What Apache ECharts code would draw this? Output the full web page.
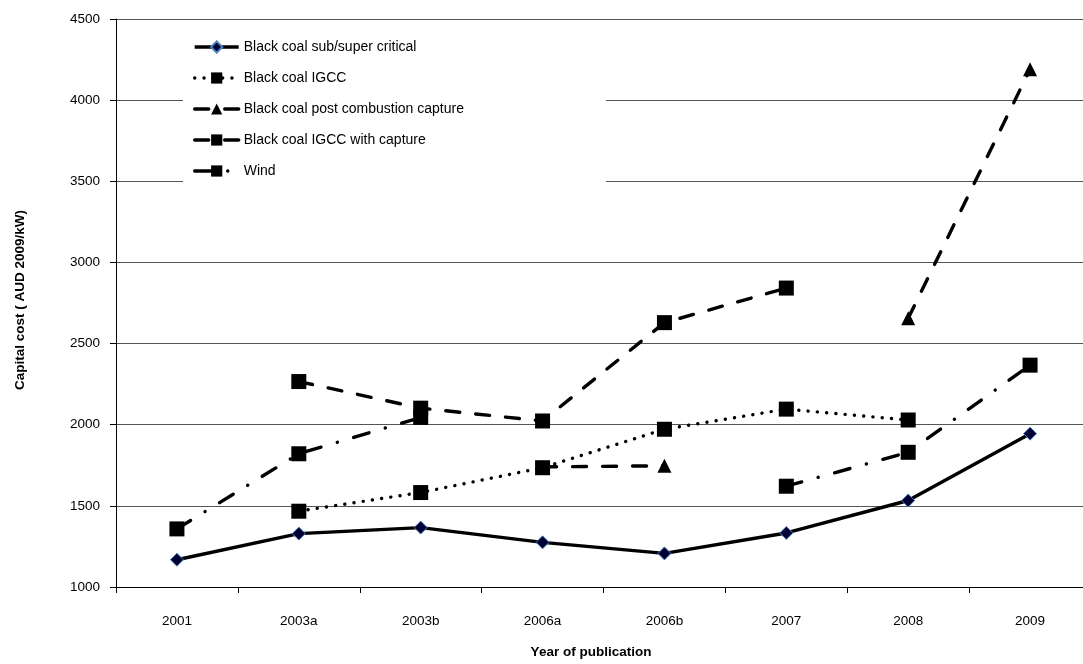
<!DOCTYPE html>
<html>
<head>
<meta charset="utf-8">
<script src="https://cdn.jsdelivr.net/npm/echarts@6/dist/echarts.min.js"></script>
<style>
  html, body { margin: 0; padding: 0; background: #fff; }
  #chart { width: 1083px; height: 664px; }
</style>
</head>
<body>
<div id="chart"></div>
<script>
// Publications (x axis categories)
const years = ['2001', '2003a', '2003b', '2006a', '2006b', '2007', '2008', '2009'];

// Capital cost, AUD 2009/kW (null = no estimate in that publication)
const subSuperCritical = [1168, 1329, 1366, 1275, 1207, 1333, 1533, 1945];
const igcc             = [null, 1467, 1582, 1735, 1972, 2096, 2029, null];
const postCombustion   = [null, null, null, 1740, 1747, null, 2656, 4190];
const igccCapture      = [null, 2266, 2102, 2023, 2629, 2842, null, null];
const wind             = [1358, 1821, 2045, null, null, 1621, 1830, 2367];

// Value axis ticks
const yMin = 1000, yMax = 4500, yStep = 500;

const seriesNames = [
  'Black coal sub/super critical',
  'Black coal IGCC',
  'Black coal post combustion capture',
  'Black coal IGCC with capture',
  'Wind'
];

const FONT = 'Liberation Sans, Arial, sans-serif';
const chart = echarts.init(document.getElementById('chart'), null, { renderer: 'canvas' });

function lineSeries(name, data, symbol, size, itemStyle, lineStyle) {
  return {
    name, type: 'line', data,
    symbol, symbolSize: size,
    showSymbol: true, showAllSymbol: true,
    connectNulls: false,
    itemStyle,
    lineStyle: Object.assign({ color: '#000', width: 3.4 }, lineStyle),
    emphasis: { disabled: true }
  };
}

chart.setOption({
  animation: false,
  backgroundColor: '#fff',
  // the last category runs a little past the right edge of the canvas
  grid: { left: 116, top: 19, bottom: 77, width: 975, outerBoundsMode: 'none' },
  legend: {
    orient: 'vertical',
    left: 183, top: 32,
    padding: [8, 142, 14, 10],
    backgroundColor: '#fff',
    itemWidth: 44, itemHeight: 14, itemGap: 17,
    textStyle: { fontFamily: FONT, fontSize: 14, color: '#000' },
    lineStyle: { width: 3.4 },
    data: seriesNames,
    selectedMode: false,
    z: 10
  },
  xAxis: {
    type: 'category',
    data: years,
    boundaryGap: true,
    axisLine: { lineStyle: { color: '#000', width: 1 } },
    axisTick: { show: true, length: 6, alignWithLabel: false, lineStyle: { color: '#000' } },
    axisLabel: { fontFamily: FONT, fontSize: 13.5, color: '#000', margin: 27 },
    splitLine: { show: false }
  },
  yAxis: {
    type: 'value',
    min: yMin, max: yMax, interval: yStep,
    axisLine: { show: true, lineStyle: { color: '#000', width: 1 } },
    axisTick: { show: true, length: 6, lineStyle: { color: '#000' } },
    axisLabel: { fontFamily: FONT, fontSize: 13.5, color: '#000', margin: 16,
                 formatter: v => String(v) },
    splitLine: { show: true, lineStyle: { color: '#555', width: 1 } }
  },
  graphic: [
    {
      type: 'text', x: 591, y: 652,
      style: { text: 'Year of publication', font: 'bold 13.5px ' + FONT, fill: '#000',
               textAlign: 'center', textVerticalAlign: 'middle' }
    },
    {
      type: 'text', x: 20, y: 300, rotation: Math.PI / 2,
      style: { text: 'Capital cost ( AUD 2009/kW)', font: 'bold 13.5px ' + FONT, fill: '#000',
               textAlign: 'center', textVerticalAlign: 'middle' }
    }
  ],
  series: [
    lineSeries(seriesNames[0], subSuperCritical, 'diamond', 13,
      { color: '#000033', borderColor: '#4a7ebb', borderWidth: 1 },
      { type: 'solid' }),
    lineSeries(seriesNames[1], igcc, 'rect', 15,
      { color: '#000' },
      { type: [0.1, 9.2], cap: 'round', width: 3.4 }),
    lineSeries(seriesNames[2], postCombustion, 'triangle', 14,
      { color: '#000' },
      { type: [14, 16], cap: 'round' }),
    lineSeries(seriesNames[3], igccCapture, 'rect', 15,
      { color: '#000' },
      { type: [14, 16], cap: 'round' }),
    lineSeries(seriesNames[4], wind, 'rect', 15,
      { color: '#000' },
      { type: [16, 17, 0.1, 17], cap: 'round' })
  ]
});
</script>
</body>
</html>
